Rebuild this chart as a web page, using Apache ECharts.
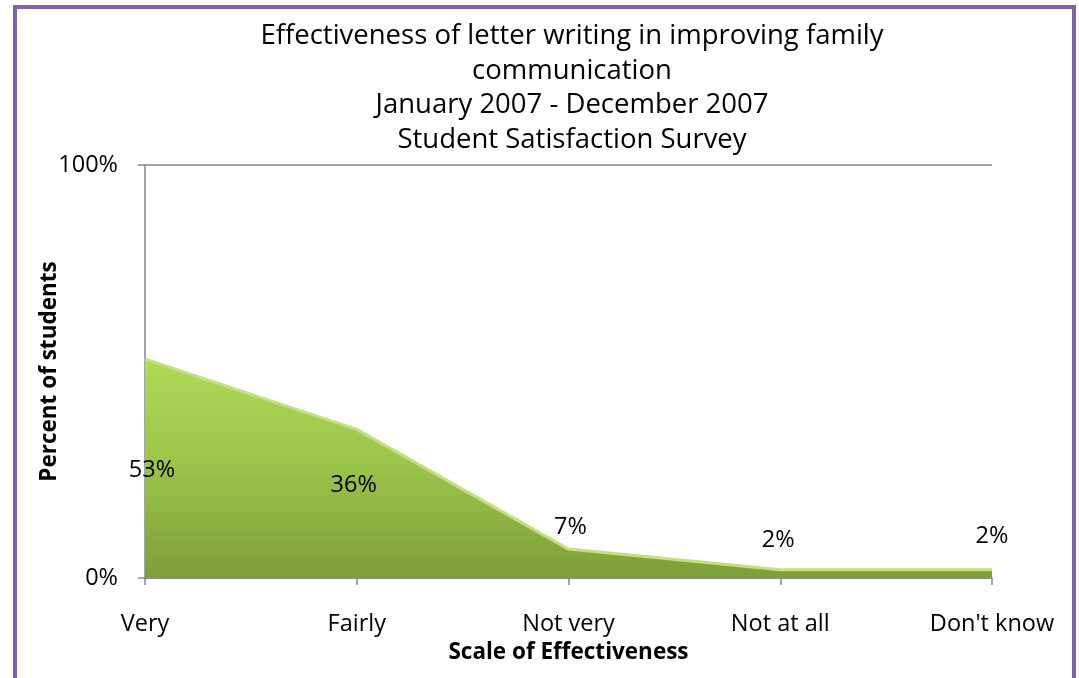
<!DOCTYPE html>
<html>
<head>
<meta charset="utf-8">
<script src="https://cdn.jsdelivr.net/npm/echarts@6/dist/echarts.min.js"></script>
<style>
html,body{margin:0;padding:0;background:#fff;}
#c{width:1079px;height:678px;}
</style>
</head>
<body>
<div id="c"></div>
<script>
const categories = ["Very", "Fairly", "Not very", "Not at all", "Don't know"];
const percentValues = [53, 36, 7, 2, 2];
const yTicks = [0, 100];
const titleLines = [
  "Effectiveness of letter writing in improving family",
  "communication",
  "January 2007 - December 2007",
  "Student Satisfaction Survey"
];

// label placement (style only, not data)
const labelOffsets = [[7, 111], [-3, 56], [2, -22], [-2, -29], [0, -33]];

const FONT = '"Open Sans", Lato, sans-serif';
const chart = echarts.init(document.getElementById('c'), null, {renderer: 'canvas'});

const seriesData = percentValues.map((v, i) => ({
  value: v,
  label: {offset: labelOffsets[i]}
}));

chart.setOption({
  animation: false,
  backgroundColor: '#ffffff',
  graphic: [{
    type: 'rect',
    shape: {x: 15, y: 7, width: 1059, height: 720},
    style: {fill: 'none', stroke: '#8064A2', lineWidth: 4},
    silent: true
  }],
  title: {
    text: titleLines.join('\n'),
    left: 567,
    top: 14,
    textAlign: 'center',
    textStyle: {fontFamily: FONT, fontSize: 27.5, fontWeight: 'normal', color: '#000', lineHeight: 34.5}
  },
  grid: {left: 145, right: 87, top: 165, bottom: 100, containLabel: false},
  xAxis: {
    type: 'category',
    data: categories,
    boundaryGap: false,
    name: 'Scale of Effectiveness',
    nameLocation: 'middle',
    nameGap: 63,
    nameMoveOverlap: false,
    nameTextStyle: {fontFamily: FONT, fontSize: 22.5, fontWeight: 'bold', color: '#000'},
    axisLine: {lineStyle: {color: '#868686', width: 1.5}},
    axisTick: {show: true, alignWithLabel: true, length: 7, lineStyle: {color: '#868686', width: 1.5}},
    axisLabel: {fontFamily: FONT, fontSize: 23.5, color: '#000', margin: 34}
  },
  yAxis: {
    type: 'value',
    min: yTicks[0],
    max: yTicks[yTicks.length - 1],
    interval: yTicks[1] - yTicks[0],
    name: 'Percent of students',
    nameLocation: 'middle',
    nameGap: 84,
    nameMoveOverlap: false,
    nameTextStyle: {fontFamily: FONT, fontSize: 22.5, fontWeight: 'bold', color: '#000'},
    axisLine: {show: true, lineStyle: {color: '#868686', width: 1.5}},
    axisTick: {show: true, length: 7, lineStyle: {color: '#868686', width: 1.5}},
    splitLine: {show: true, lineStyle: {color: '#868686', width: 1.5}},
    axisLabel: {fontFamily: FONT, fontSize: 23.5, color: '#000', margin: 27, formatter: '{value}%'}
  },
  series: [{
    type: 'line',
    data: seriesData,
    symbol: 'circle',
    symbolSize: 1,
    itemStyle: {color: 'rgba(0,0,0,0)'},
    lineStyle: {color: '#c3e07e', width: 3},
    areaStyle: {
      opacity: 1,
      color: new echarts.graphic.LinearGradient(0, 0, 0, 1, [
        {offset: 0, color: '#b0d858'},
        {offset: 0.5, color: '#9ac349'},
        {offset: 1, color: '#7e9e3a'}
      ], false)
    },
    label: {
      show: true,
      position: 'inside',
      formatter: '{c}%',
      fontFamily: FONT,
      fontSize: 23.5,
      color: '#000'
    },
    z: 3
  }]
});
</script>
</body>
</html>
